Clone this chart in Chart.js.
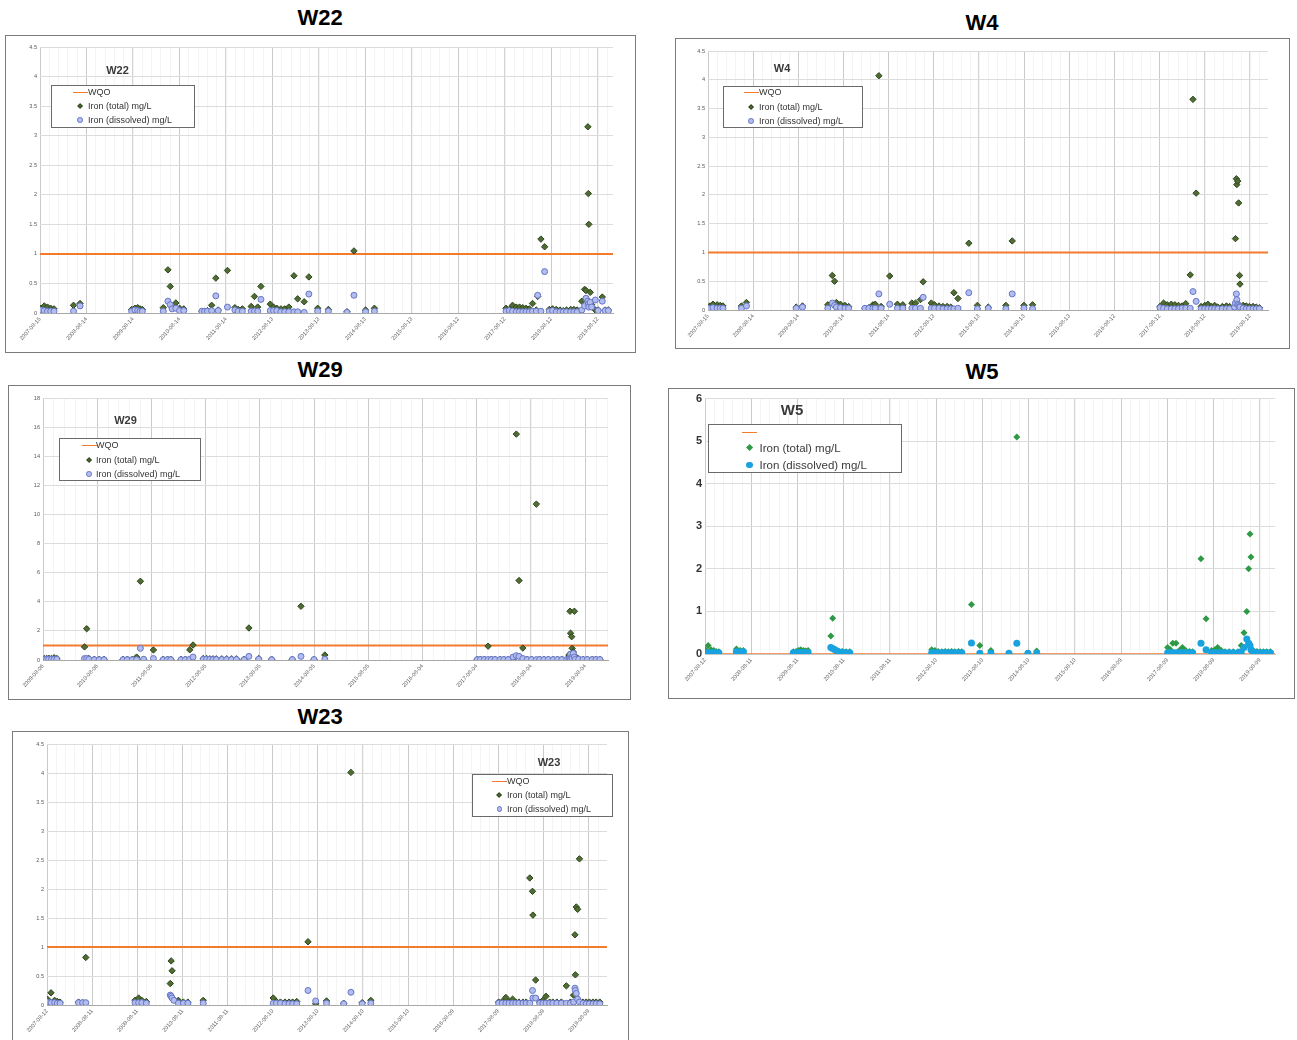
<!DOCTYPE html>
<html>
<head>
<meta charset="utf-8">
<script src="https://cdn.jsdelivr.net/npm/chart.js@4.4.1/dist/chart.umd.min.js"></script>
<style>
  html, body { margin:0; padding:0; background:#fff; }
  body { width:1297px; height:1040px; position:relative; overflow:hidden; font-family:"Liberation Sans", Arial, sans-serif; }
  .ptitle { position:absolute; font-weight:bold; font-size:22px; color:#000; transform:translate(-50%,-50%); white-space:nowrap; }
  .box { position:absolute; box-sizing:border-box; border:1px solid #7a7a7a; background:#fff; }
  .box canvas { position:absolute; left:0; top:0; }
  .ititle { position:absolute; font-weight:bold; color:#3a3a3a; transform:translate(-50%,-50%); white-space:nowrap; }
  .legend { position:absolute; box-sizing:border-box; border:1px solid #6a6a6a; background:#fff; }
  .lrow { position:absolute; left:0; right:0; height:0; }
  .ltext { position:absolute; transform:translateY(-50%); color:#333; white-space:nowrap; }
  .mk { position:absolute; box-sizing:border-box; }
</style>
</head>
<body>
<script>
// ---------------- DATA ----------------
// x values are decimal years; tick labels are sampling dates used on each x axis
const w22Ticks = ["2007-08-15","2008-08-14","2009-08-14","2010-08-14","2011-08-14","2012-08-13","2013-08-13","2014-08-13","2015-08-13","2016-08-12","2017-08-12","2018-08-12","2019-08-12"];
const w22Dates = [2007.64,2007.71,2007.78,2007.85,2007.92,2008.34,2008.48,2009.59,2009.66,2009.72,2009.77,2009.82,2010.27,2010.37,2010.42,2010.46,2010.54,2010.62,2010.71,2011.10,2011.16,2011.22,2011.31,2011.40,2011.45,2011.65,2011.81,2011.88,2011.97,2012.16,2012.23,2012.30,2012.37,2012.57,2012.64,2012.71,2012.80,2012.88,2012.97,2013.08,2013.16,2013.30,2013.40,2013.59,2013.82,2014.22,2014.37,2014.62,2014.81,2017.64,2017.71,2017.78,2017.86,2017.93,2018.00,2018.07,2018.14,2018.21,2018.29,2018.32,2018.39,2018.47,2018.57,2018.64,2018.72,2018.80,2018.87,2018.94,2019.03,2019.10,2019.17,2019.27,2019.33,2019.36,2019.40,2019.41,2019.42,2019.45,2019.48,2019.56,2019.62,2019.71,2019.77,2019.84];
const w22Total = [0.08,0.12,0.10,0.08,0.07,0.13,0.16,0.06,0.08,0.09,0.07,0.06,0.09,0.73,0.45,0.10,0.17,0.08,0.07,0.03,0.03,0.04,0.13,0.59,0.05,0.72,0.09,0.06,0.07,0.11,0.28,0.10,0.45,0.15,0.10,0.08,0.07,0.07,0.10,0.63,0.24,0.19,0.61,0.08,0.06,0.02,1.05,0.05,0.08,0.08,0.06,0.13,0.10,0.10,0.09,0.08,0.07,0.16,0.05,0.28,1.25,1.12,0.06,0.07,0.06,0.05,0.04,0.05,0.06,0.06,0.05,0.20,0.40,0.38,3.15,2.02,1.50,0.35,0.14,0.05,0.05,0.27,0.05,0.05];
const w22Dissolved = [0.05,0.04,0.03,0.03,0.03,0.03,0.12,0.03,0.05,0.04,0.03,0.03,0.03,0.20,0.14,0.07,0.08,0.04,0.04,0.03,0.03,0.03,0.04,0.29,0.04,0.10,0.05,0.03,0.03,0.03,0.03,0.03,0.23,0.04,0.04,0.04,0.02,0.02,0.02,0.02,0.02,0.01,0.32,0.03,0.03,0.01,0.30,0.02,0.03,0.03,0.04,0.03,0.02,0.02,0.02,0.02,0.02,0.03,0.03,0.30,0.03,0.70,0.03,0.04,0.02,0.02,0.02,0.02,0.02,0.02,0.02,0.05,0.12,0.25,0.20,0.15,0.10,0.18,0.10,0.22,0.04,0.20,0.04,0.04];

const w4Ticks = ["2007-08-15","2008-08-14","2009-08-14","2010-08-14","2011-08-14","2012-08-13","2013-08-13","2014-08-13","2015-08-13","2016-08-12","2017-08-12","2018-08-12","2019-08-12"];
const w4Dates = [2007.66,2007.73,2007.82,2007.89,2007.95,2008.36,2008.47,2009.57,2009.71,2010.27,2010.37,2010.42,2010.46,2010.55,2010.65,2010.73,2011.09,2011.18,2011.27,2011.32,2011.40,2011.45,2011.64,2011.81,2011.93,2012.13,2012.21,2012.32,2012.38,2012.56,2012.63,2012.73,2012.82,2012.91,2012.99,2013.06,2013.15,2013.39,2013.58,2013.82,2014.21,2014.35,2014.61,2014.80,2017.62,2017.70,2017.78,2017.87,2017.95,2018.03,2018.11,2018.19,2018.29,2018.35,2018.42,2018.53,2018.61,2018.68,2018.76,2018.83,2018.90,2019.00,2019.09,2019.16,2019.27,2019.29,2019.31,2019.32,2019.34,2019.36,2019.38,2019.39,2019.46,2019.53,2019.60,2019.68,2019.75,2019.82];
const w4Total = [0.07,0.10,0.09,0.08,0.07,0.07,0.13,0.05,0.07,0.09,0.60,0.50,0.13,0.10,0.08,0.06,0.03,0.04,0.09,0.10,4.07,0.06,0.59,0.10,0.09,0.12,0.12,0.18,0.49,0.12,0.09,0.07,0.06,0.06,0.05,0.30,0.20,1.16,0.08,0.05,0.08,1.20,0.08,0.09,0.06,0.12,0.09,0.10,0.09,0.08,0.07,0.11,0.61,3.66,2.03,0.06,0.08,0.10,0.06,0.08,0.05,0.06,0.07,0.06,0.05,1.24,2.28,2.18,2.24,1.86,0.60,0.45,0.08,0.07,0.06,0.06,0.05,0.04];
const w4Dissolved = [0.03,0.04,0.03,0.03,0.03,0.03,0.07,0.03,0.05,0.03,0.12,0.08,0.05,0.04,0.03,0.03,0.03,0.03,0.03,0.03,0.28,0.03,0.10,0.03,0.03,0.03,0.03,0.03,0.22,0.03,0.03,0.03,0.02,0.02,0.02,0.02,0.03,0.30,0.02,0.03,0.02,0.28,0.03,0.02,0.04,0.03,0.02,0.02,0.02,0.02,0.03,0.03,0.03,0.32,0.15,0.02,0.02,0.02,0.02,0.02,0.02,0.02,0.02,0.02,0.05,0.12,0.28,0.18,0.10,0.08,0.06,0.05,0.03,0.02,0.02,0.02,0.02,0.02];

const w29Ticks = ["2009-08-06","2010-08-06","2011-08-06","2012-08-05","2013-08-05","2014-08-05","2015-08-05","2016-08-04","2017-08-04","2018-08-04","2019-08-04"];
const w29Dates = [2009.62,2009.66,2009.70,2009.75,2009.80,2009.85,2010.36,2010.40,2010.44,2010.54,2010.63,2010.72,2011.07,2011.15,2011.24,2011.32,2011.39,2011.45,2011.63,2011.81,2011.89,2011.95,2012.14,2012.22,2012.30,2012.36,2012.55,2012.61,2012.67,2012.73,2012.79,2012.89,2012.98,2013.07,2013.16,2013.30,2013.39,2013.57,2013.81,2014.19,2014.35,2014.59,2014.79,2017.60,2017.66,2017.73,2017.80,2017.86,2017.93,2018.02,2018.09,2018.17,2018.26,2018.32,2018.37,2018.44,2018.52,2018.60,2018.69,2018.75,2018.83,2018.91,2019.00,2019.08,2019.16,2019.25,2019.29,2019.31,2019.32,2019.34,2019.35,2019.37,2019.39,2019.41,2019.47,2019.55,2019.63,2019.72,2019.79,2019.86];
const w29Total = [0.10,0.10,0.12,0.10,0.15,0.10,0.90,2.15,0.10,0.05,0.05,0.05,0.05,0.05,0.05,0.20,5.41,0.05,0.69,0.05,0.05,0.05,0.05,0.05,0.70,1.03,0.10,0.10,0.08,0.08,0.08,0.08,0.08,0.08,0.08,0.05,2.20,0.10,0.05,0.05,3.69,0.05,0.34,0.05,0.05,0.05,0.95,0.05,0.05,0.05,0.05,0.05,0.05,15.52,5.46,0.82,0.05,0.05,10.71,0.05,0.05,0.05,0.05,0.05,0.05,0.05,0.35,3.35,1.84,1.60,0.80,0.55,3.35,0.25,0.08,0.05,0.05,0.05,0.05,0.05];
const w29Dissolved = [0.05,0.05,0.05,0.05,0.05,0.05,0.10,0.10,0.05,0.02,0.02,0.02,0.02,0.02,0.02,0.02,0.80,0.05,0.10,0.02,0.02,0.02,0.02,0.02,0.05,0.20,0.05,0.05,0.05,0.03,0.03,0.03,0.03,0.03,0.03,0.02,0.25,0.05,0.02,0.03,0.25,0.03,0.05,0.03,0.03,0.03,0.03,0.03,0.03,0.03,0.03,0.03,0.20,0.30,0.25,0.10,0.03,0.03,0.03,0.03,0.03,0.03,0.03,0.03,0.03,0.03,0.05,0.15,0.40,0.20,0.10,0.45,0.20,0.05,0.05,0.03,0.03,0.03,0.03,0.03];

const w5Ticks = ["2007-08-12","2008-08-11","2009-08-11","2010-08-11","2011-08-11","2012-08-10","2013-08-10","2014-08-10","2015-08-10","2016-08-09","2017-08-09","2018-08-09","2019-08-09"];
const w5Dates = [2007.62,2007.68,2007.74,2007.80,2007.85,2007.91,2008.29,2008.37,2008.44,2009.52,2009.58,2009.63,2009.68,2009.74,2009.79,2009.84,2010.33,2010.37,2010.42,2010.49,2010.58,2010.66,2010.74,2012.51,2012.58,2012.65,2012.73,2012.80,2012.87,2012.94,2013.01,2013.09,2013.16,2013.37,2013.55,2013.79,2014.18,2014.35,2014.59,2014.78,2017.61,2017.67,2017.72,2017.79,2017.86,2017.93,2018.00,2018.08,2018.15,2018.33,2018.44,2018.56,2018.63,2018.69,2018.77,2018.85,2018.94,2019.03,2019.13,2019.20,2019.26,2019.32,2019.36,2019.39,2019.41,2019.46,2019.54,2019.61,2019.68,2019.75,2019.83];
const w5Total = [0.10,0.20,0.10,0.08,0.06,0.05,0.12,0.08,0.08,0.05,0.06,0.08,0.10,0.08,0.07,0.08,0.42,0.84,0.08,0.07,0.06,0.05,0.05,0.10,0.08,0.06,0.05,0.06,0.05,0.06,0.05,0.06,0.05,1.16,0.20,0.08,0.02,5.10,0.02,0.07,0.15,0.10,0.25,0.25,0.08,0.15,0.08,0.06,0.05,2.24,0.83,0.08,0.10,0.15,0.08,0.05,0.05,0.05,0.05,0.20,0.50,1.00,2.00,2.82,2.28,0.08,0.06,0.05,0.05,0.05,0.05];
const w5Dissolved = [0.03,0.03,0.03,0.03,0.03,0.03,0.05,0.05,0.05,0.03,0.03,0.03,0.03,0.03,0.03,0.03,0.15,0.13,0.10,0.06,0.04,0.03,0.03,0.03,0.03,0.03,0.03,0.03,0.03,0.03,0.03,0.03,0.03,0.26,0.02,0.02,0.02,0.25,0.02,0.02,0.03,0.03,0.03,0.03,0.03,0.03,0.03,0.03,0.03,0.25,0.10,0.03,0.03,0.03,0.03,0.03,0.03,0.03,0.03,0.05,0.15,0.35,0.25,0.20,0.10,0.05,0.03,0.03,0.03,0.03,0.03];

const w23Ticks = ["2007-08-12","2008-08-11","2009-08-11","2010-08-11","2011-08-11","2012-08-10","2013-08-10","2014-08-10","2015-08-10","2016-08-09","2017-08-09","2018-08-09","2019-08-09"];
const w23Dates = [2007.62,2007.70,2007.78,2007.84,2007.90,2008.31,2008.40,2008.47,2009.56,2009.64,2009.71,2009.81,2010.34,2010.36,2010.38,2010.42,2010.52,2010.63,2010.73,2011.07,2012.62,2012.69,2012.78,2012.88,2012.97,2013.05,2013.14,2013.39,2013.56,2013.80,2014.18,2014.34,2014.59,2014.78,2017.61,2017.69,2017.77,2017.84,2017.92,2017.99,2018.06,2018.15,2018.22,2018.30,2018.36,2018.37,2018.43,2018.52,2018.59,2018.66,2018.74,2018.81,2018.90,2019.00,2019.11,2019.20,2019.27,2019.30,2019.31,2019.33,2019.36,2019.40,2019.48,2019.55,2019.62,2019.70,2019.77,2019.85];
const w23Total = [0.10,0.21,0.08,0.06,0.05,0.05,0.04,0.82,0.08,0.12,0.08,0.06,0.37,0.76,0.59,0.10,0.08,0.05,0.05,0.08,0.12,0.06,0.05,0.05,0.05,0.05,0.06,1.09,0.02,0.07,0.03,4.01,0.04,0.08,0.05,0.06,0.13,0.06,0.10,0.05,0.05,0.05,0.05,2.19,1.96,1.55,0.43,0.05,0.08,0.15,0.05,0.05,0.05,0.05,0.33,0.05,0.17,1.21,0.52,1.69,1.65,2.52,0.05,0.05,0.05,0.05,0.05,0.05];
const w23Dissolved = [0.05,0.04,0.04,0.03,0.03,0.04,0.04,0.04,0.04,0.04,0.04,0.03,0.17,0.15,0.12,0.08,0.03,0.03,0.03,0.03,0.03,0.03,0.03,0.02,0.02,0.02,0.02,0.25,0.07,0.03,0.02,0.22,0.02,0.03,0.03,0.03,0.03,0.03,0.03,0.03,0.03,0.03,0.03,0.03,0.25,0.12,0.12,0.03,0.03,0.03,0.03,0.03,0.03,0.03,0.03,0.03,0.05,0.29,0.25,0.20,0.10,0.05,0.03,0.02,0.02,0.02,0.02,0.02];

const wqoValue = 1;          // water quality objective, mg/L
const seriesLabels = ["WQO", "Iron (total) mg/L", "Iron (dissolved) mg/L"];

// ---------------- LAYOUT / STYLE ----------------
function decYear(s) {
  const p = s.split('-').map(Number);
  const a = Date.UTC(p[0], 0, 1), b = Date.UTC(p[0] + 1, 0, 1);
  return p[0] + (Date.UTC(p[0], p[1] - 1, p[2]) - a) / (b - a);
}
const FONT = '"Liberation Sans", Arial, sans-serif';
const normal = { total: { bg: '#4f6d30', bd: '#2e4420', r: 3.2, bw: 1 }, diss: { bg: '#b2bcee', bd: '#6676c6', r: 3.0, bw: 1 } };
const bright = { total: { bg: '#2f9a45', bd: '#2f9a45', r: 3.5, bw: 0 }, diss: { bg: '#18a2e0', bd: '#18a2e0', r: 3.5, bw: 0 } };

const panels = [
  { name: 'W22', title: [320, 18], box: [5, 35, 631, 318], plot: [40, 47, 613, 313], xMax: 2019.94, yMax: 4.5, yStep: 0.5,
    ticks: w22Ticks, dates: w22Dates, total: w22Total, diss: w22Dissolved, wqo: wqoValue, st: normal, big: false,
    ititle: [117.5, 70, 11], leg: { x: 51, y: 85, w: 144, h: 43, mx: 28, tx: 36, rows: [7, 21, 35], fs: 9, showWqoText: true } },
  { name: 'W4', title: [982, 23], box: [675, 38, 615, 311], plot: [708, 51, 1268, 310], xMax: 2020.01, yMax: 4.5, yStep: 0.5,
    ticks: w4Ticks, dates: w4Dates, total: w4Total, diss: w4Dissolved, wqo: wqoValue, st: normal, big: false,
    ititle: [782, 68, 11], leg: { x: 723, y: 86, w: 140, h: 42, mx: 27, tx: 35, rows: [6, 21, 35], fs: 9, showWqoText: true } },
  { name: 'W29', title: [320, 370], box: [8, 385, 623, 315], plot: [43, 398, 608, 660], xMax: 2020.01, yMax: 18, yStep: 2,
    ticks: w29Ticks, dates: w29Dates, total: w29Total, diss: w29Dissolved, wqo: wqoValue, st: normal, big: false,
    ititle: [125.5, 420, 11], leg: { x: 59, y: 438, w: 142, h: 43, mx: 29, tx: 36, rows: [7, 22, 36], fs: 9, showWqoText: true } },
  { name: 'W5', title: [982, 372], box: [668, 388, 627, 311], plot: [705, 394, 1275, 654], xMax: 2019.93, yMax: 6, yStep: 1,
    ticks: w5Ticks, dates: w5Dates, total: w5Total, diss: w5Dissolved, wqo: 0, st: bright, big: true,
    ititle: [792, 409, 15], leg: { x: 708, y: 424, w: 194, h: 49, mx: 40.5, tx: 50.5, rows: [8, 24, 41], fs: 11.5, showWqoText: false } },
  { name: 'W23', title: [320, 717], box: [12, 731, 617, 320], plot: [47, 744, 607, 1005], xMax: 2020.01, yMax: 4.5, yStep: 0.5,
    ticks: w23Ticks, dates: w23Dates, total: w23Total, diss: w23Dissolved, wqo: wqoValue, st: normal, big: false,
    ititle: [549, 762, 11], leg: { x: 472, y: 774, w: 141, h: 43, mx: 26.5, tx: 34, rows: [7, 21, 35], fs: 9, showWqoText: true } },
];

function el(tag, cls, parent, css) {
  const e = document.createElement(tag);
  if (cls) e.className = cls;
  if (css) Object.assign(e.style, css);
  (parent || document.body).appendChild(e);
  return e;
}

panels.forEach(p => {
  const t = el('div', 'ptitle', null, { left: p.title[0] + 'px', top: p.title[1] + 'px' });
  t.textContent = p.name;

  const [bx, by, bw, bh] = p.box;
  const box = el('div', 'box', null, { left: bx + 'px', top: by + 'px', width: bw + 'px', height: bh + 'px' });
  const cw = bw - 2, ch = bh - 2, ox = bx + 1, oy = by + 1;
  const canvas = el('canvas', null, box);
  canvas.width = cw; canvas.height = ch;
  canvas.style.width = cw + 'px'; canvas.style.height = ch + 'px';

  const pl = p.plot[0] - ox, pt = p.plot[1] - oy, pr = p.plot[2] - ox, pb = p.plot[3] - oy;
  const yW = p.big ? 24 : 20;
  const tickVals = p.ticks.map(decYear);
  const xMin = tickVals[0];
  const n = Math.min(p.dates.length, p.total.length, p.diss.length);
  const pts = arr => { const o = []; for (let i = 0; i < n; i++) if (arr[i] != null) o.push({ x: p.dates[i], y: arr[i] }); return o; };
  const minor = []; for (let v = xMin; v <= p.xMax + 1e-9; v += 0.2) minor.push({ value: v });

  new Chart(canvas.getContext('2d'), {
    type: 'scatter',
    data: {
      datasets: [
        { type: 'line', label: seriesLabels[0], data: [{ x: xMin, y: p.wqo }, { x: p.xMax, y: p.wqo }],
          borderColor: '#f47a2c', borderWidth: p.big ? 1.5 : 2, pointRadius: 0, order: 3, xAxisID: 'x', yAxisID: 'y' },
        { label: seriesLabels[1], data: pts(p.total), pointStyle: 'rectRot', pointRadius: p.st.total.r,
          backgroundColor: p.st.total.bg, borderColor: p.st.total.bd, borderWidth: p.st.total.bw, order: 2, xAxisID: 'x', yAxisID: 'y' },
        { label: seriesLabels[2], data: pts(p.diss), pointStyle: 'circle', pointRadius: p.st.diss.r,
          backgroundColor: p.st.diss.bg, borderColor: p.st.diss.bd, borderWidth: p.st.diss.bw, order: 1, xAxisID: 'x', yAxisID: 'y' },
      ]
    },
    options: {
      responsive: false, animation: false, devicePixelRatio: 1,
      layout: { padding: { left: pl - yW, top: pt, right: cw - pr, bottom: 0 } },
      plugins: { legend: { display: false }, tooltip: { enabled: false } },
      scales: {
        x: {
          type: 'linear', position: 'bottom', min: xMin, max: p.xMax,
          afterBuildTicks: s => { s.ticks = tickVals.map(v => ({ value: v })); },
          afterFit: s => { s.height = ch - pb; },
          ticks: { autoSkip: false, minRotation: 48, maxRotation: 48, padding: 3, color: '#626262',
                   font: { family: FONT, size: 5.6 }, callback: (v, i) => p.ticks[i] },
          grid: { color: '#d4d4d4', lineWidth: 1, drawTicks: false },
          border: { display: true, color: p.big ? '#c8c8c8' : '#a8a8a8', width: 1 }
        },
        xm: {
          type: 'linear', position: 'bottom', min: xMin, max: p.xMax,
          afterBuildTicks: s => { s.ticks = minor.slice(); },
          afterFit: s => { s.height = 0; },
          ticks: { display: false },
          grid: { color: 'rgba(0,0,0,0.045)', lineWidth: 1, drawTicks: false },
          border: { display: false }
        },
        y: {
          min: 0, max: p.yMax,
          afterFit: s => { s.width = yW; },
          ticks: { stepSize: p.yStep, padding: 3, color: p.big ? '#333' : '#5a5a5a',
                   callback: v => String(Math.round(v * 100) / 100),
                   font: p.big ? { family: FONT, size: 11, weight: 'bold' } : { family: FONT, size: 5.6 } },
          grid: { color: '#dcdcdc', lineWidth: 1, drawTicks: false },
          border: { display: false }
        }
      }
    }
  });

  const it = el('div', 'ititle', box, { left: (p.ititle[0] - ox) + 'px', top: (p.ititle[1] - oy) + 'px', fontSize: p.ititle[2] + 'px' });
  it.textContent = p.name;

  const L = p.leg;
  const lg = el('div', 'legend', box, { left: Math.round(L.x - ox) + 'px', top: Math.round(L.y - oy) + 'px', width: L.w + 'px', height: L.h + 'px' });
  const st = p.st;
  L.rows.forEach((ry, k) => {
    const row = el('div', 'lrow', lg, { top: Math.round(ry - 1) + 'px' });
    if (k === 0) {
      el('div', 'mk', row, { left: Math.round(L.mx - 7.5) + 'px', top: '0px', width: '15px', height: '1px', background: '#f47a2c' });
    } else if (k === 1) {
      const s = p.big ? 5.2 : 4.2;
      el('div', 'mk', row, { left: (L.mx - s / 2) + 'px', top: (-s / 2) + 'px', width: s + 'px', height: s + 'px',
        background: st.total.bg, border: st.total.bw ? '1px solid ' + st.total.bd : 'none', transform: 'rotate(45deg)' });
    } else {
      const s = p.big ? 6.5 : 5.5;
      el('div', 'mk', row, { left: (L.mx - s / 2) + 'px', top: (-s / 2) + 'px', width: s + 'px', height: s + 'px', borderRadius: '50%',
        background: st.diss.bg, border: st.diss.bw ? '1px solid ' + st.diss.bd : 'none' });
    }
    if (k > 0 || L.showWqoText) {
      const tx = el('span', 'ltext', row, { left: L.tx + 'px', top: '0px', fontSize: L.fs + 'px', color: p.big ? '#3a3a3a' : '#333' });
      tx.textContent = seriesLabels[k];
    }
  });
});
</script>
</body>
</html>
